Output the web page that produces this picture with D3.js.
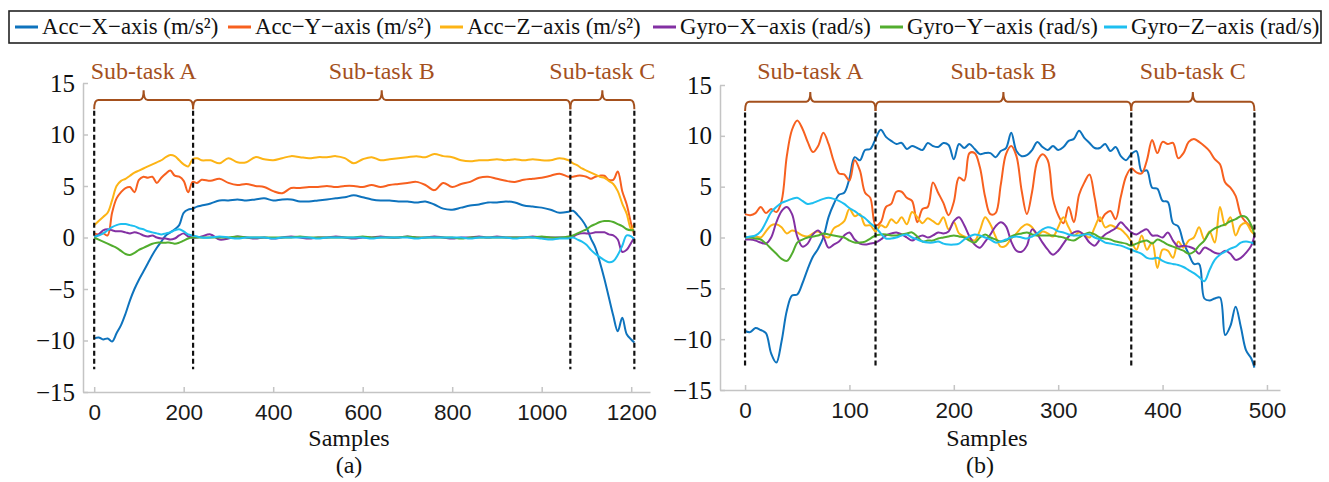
<!DOCTYPE html>
<html>
<head>
<meta charset="utf-8">
<script src="https://cdn.jsdelivr.net/npm/d3@7"></script>
<style>
  body { margin: 0; background: #fff; }
  svg { display: block; }
</style>
</head>
<body>
<svg id="chart" width="1329" height="482"></svg>
<script>
// series names + colours (legend order = draw order)
var seriesNames = ["Acc\u2212X\u2212axis (m/s\u00b2)", "Acc\u2212Y\u2212axis (m/s\u00b2)", "Acc\u2212Z\u2212axis (m/s\u00b2)",
                   "Gyro\u2212X\u2212axis (rad/s)", "Gyro\u2212Y\u2212axis (rad/s)", "Gyro\u2212Z\u2212axis (rad/s)"];
var seriesColors = ["#0e73bd", "#f7601f", "#fdb415", "#8330a3", "#52ad2e", "#1ebff0"];

var yTicks = [-15, -10, -5, 0, 5, 10, 15];
var xTicksA = [0, 200, 400, 600, 800, 1000, 1200];
var xTicksB = [0, 100, 200, 300, 400, 500];
var phaseLabels = ["Sub-task A", "Sub-task B", "Sub-task C"];
var boundsA = [0, 221, 1064, 1207];
var boundsB = [0, 125, 370, 488];

// panel (a): sample index of each reading
var samplesA = [0,10,20,30,40,50,60,70,80,90,100,110,120,130,140,150,160,170,180,190,200,210,220,230,240,
  260,280,300,320,340,360,380,400,420,440,460,480,500,520,540,560,580,600,620,640,660,680,700,720,740,
  760,780,800,820,840,860,880,900,920,940,960,980,1000,1020,1040,1060,
  1070,1080,1090,1100,1110,1120,1130,1140,1150,1160,1170,1180,1190,1200,1207];

var accXA = [-9.8,-9.7,-9.9,-9.8,-10.1,-9.3,-8.5,-7.4,-6.1,-5.0,-4.1,-3.3,-2.5,-1.7,-1.0,-0.4,0.2,0.5,0.8,1.2,2.4,2.7,2.8,3.0,3.1,
  3.3,3.6,3.6,3.7,3.6,3.7,3.8,3.6,3.7,3.7,3.5,3.5,3.6,3.7,3.8,3.9,4.1,3.9,3.7,3.6,3.6,3.5,3.5,3.4,3.5,
  3.2,2.8,2.7,2.9,3.1,3.2,3.4,3.4,3.5,3.4,3.1,3.0,2.9,2.7,2.4,2.5,
  2.6,2.2,1.7,1.0,-0.1,-1.0,-2.4,-4.0,-5.8,-7.6,-9.1,-7.8,-9.4,-9.9,-10.2];
var accYA = [0.4,0.3,0.4,0.2,2.4,3.8,4.4,4.8,4.9,4.4,5.6,5.9,5.8,5.9,5.3,5.8,6.2,6.5,6.0,5.9,5.5,4.4,5.4,5.3,5.6,
  5.5,5.7,5.3,5.1,5.2,5.0,4.9,4.5,4.3,4.8,4.8,4.9,4.9,5.0,4.9,5.0,5.0,4.9,5.1,4.9,5.1,5.2,5.3,5.4,5.1,
  4.6,5.3,4.9,5.2,5.4,5.8,5.9,5.7,5.5,5.4,5.6,5.7,5.8,6.0,6.2,5.9,
  5.9,6.0,6.0,5.9,5.7,5.9,6.0,6.0,5.6,5.6,6.4,4.5,3.2,1.3,0.2];
var accZA = [1.2,1.6,2.0,2.4,3.6,5.0,5.5,5.7,6.0,6.3,6.5,6.7,6.9,7.1,7.3,7.5,7.8,8.0,7.9,7.5,7.1,6.9,7.6,7.7,7.5,
  7.5,7.2,7.7,7.3,7.3,7.8,7.6,7.5,7.7,7.9,7.8,7.7,7.8,7.8,7.9,7.7,7.2,7.6,7.8,7.5,7.6,7.7,7.8,7.9,7.8,
  8.1,7.9,7.8,7.5,7.4,7.5,7.5,7.6,7.5,7.6,7.5,7.6,7.5,7.5,7.7,7.5,
  7.2,7.0,6.7,6.5,6.3,6.1,5.9,5.8,5.5,5.2,4.5,3.3,2.3,0.8,1.3];
var gyroXA = [0,0.3,0.7,0.8,0.7,0.6,0.6,0.5,0.4,0.5,0.4,0.2,0.1,0.2,0.0,-0.1,-0.1,-0.2,-0.1,0.2,0.4,0.1,0.0,0.0,0.1,
  0.3,-0.2,-0.1,0.1,0.0,-0.1,0.0,-0.1,0.0,0.1,0.0,-0.1,0.0,0.0,0.1,0.0,-0.1,0.0,0.0,0.1,0.0,0.0,0.1,0.0,0.0,
  0.1,0.0,-0.1,0.0,0.0,0.1,0.0,0.1,0.0,0.0,0.0,0.1,0.0,0.0,0.0,0.0,
  0.1,0.3,0.4,0.4,0.4,0.5,0.5,0.5,0.3,0.2,-0.2,-1.4,-1.2,-0.5,0.0];
var gyroYA = [0,-0.2,-0.4,-0.6,-0.8,-1.0,-1.3,-1.6,-1.7,-1.5,-1.2,-1.0,-0.8,-0.6,-0.5,-0.5,-0.5,-0.5,-0.6,-0.5,-0.3,-0.1,0.0,0.0,0.0,
  0.0,0.0,0.0,0.1,0.0,0.0,0.0,0.0,0.0,0.0,0.1,0.0,0.0,0.0,0.0,0.0,0.0,0.1,0.0,0.0,0.0,0.0,0.1,0.0,0.0,
  0.0,0.0,0.0,-0.1,0.0,0.0,0.0,0.0,0.0,0.0,0.0,0.0,0.1,0.0,0.0,0.1,
  0.2,0.4,0.6,0.8,1.1,1.3,1.5,1.6,1.6,1.5,1.3,1.1,0.8,0.7,0.7];
var gyroZA = [0.1,0.2,0.4,0.7,1.0,1.2,1.3,1.3,1.2,1.1,0.9,0.8,0.6,0.5,0.4,0.3,0.4,0.5,0.7,0.8,0.6,0.3,0.2,0.1,0.0,
  0.0,0.1,0.0,-0.1,0.0,0.0,0.0,-0.1,0.0,0.0,0.0,0.0,-0.1,0.0,0.0,0.0,0.0,0.0,-0.1,0.0,0.0,0.0,0.0,-0.1,0.0,
  0.0,0.0,0.0,0.0,-0.1,0.0,0.0,0.0,0.0,-0.1,0.0,0.0,-0.1,-0.2,-0.1,-0.1,
  0.0,-0.2,-0.4,-0.7,-1.2,-1.6,-1.9,-2.2,-2.4,-2.3,-1.7,-0.8,0.2,0.1,-0.2];

// panel (b): one reading every 5 samples
var samplesB = [0,5,10,15,20,25,30,35,40,45,50,55,60,65,70,75,80,85,90,95,
  100,105,110,115,120,125,130,135,140,145,150,155,160,165,170,175,180,185,190,195,
  200,205,210,215,220,225,230,235,240,245,250,255,260,265,270,275,280,285,290,295,
  300,305,310,315,320,325,330,335,340,345,350,355,360,365,370,375,380,385,390,395,
  400,405,410,415,420,425,430,435,440,445,450,455,460,465,470,475,480,485,488];

var accXB = [-9.2,-9.3,-8.9,-9.1,-9.4,-11.4,-12.3,-10.2,-7.2,-5.7,
  -5.6,-4.5,-3.1,-1.9,-1.1,0.0,2.0,3.3,4.2,4.4,
  5.8,7.9,7.6,8.6,8.7,9.7,10.6,9.9,9.5,9.2,
  9.3,8.7,9.0,8.8,8.6,9.3,9.0,8.9,9.3,9.1,
  7.7,9.2,8.8,9.2,8.7,8.2,8.3,8.3,7.9,8.5,
  8.8,10.3,8.5,8.0,8.1,8.6,9.4,8.9,8.6,9.0,
  8.6,8.9,9.5,9.7,10.5,9.8,9.3,8.8,8.8,9.2,
  8.5,8.9,8.0,7.6,8.2,8.5,6.5,6.6,4.9,4.8,
  3.6,3.5,1.4,1.1,-0.5,-1.6,-2.6,-2.6,-6.0,-6.2,
  -6.0,-5.9,-9.6,-8.7,-6.8,-8.8,-11.1,-11.9,-12.8];
var accYB = [2.3,2.2,2.4,3.0,2.4,2.8,2.5,3.6,8.0,10.6,
  11.5,10.7,9.4,8.4,9.0,10.3,9.2,7.5,6.3,6.2,
  5.6,7.6,6.6,4.4,3.9,1.2,1.5,3.0,3.3,4.5,
  4.5,3.9,3.6,1.5,2.8,3.0,5.4,4.4,3.4,2.2,
  3.5,5.9,5.6,8.3,8.3,6.9,4.0,2.3,2.4,5.2,
  8.2,9.0,8.0,4.6,2.3,4.5,7.5,8.2,7.6,3.8,
  2.2,1.4,3.0,1.5,4.2,5.4,6.2,3.9,1.6,2.3,
  2.6,1.8,4.0,6.0,6.8,6.4,6.3,7.6,9.6,8.3,
  9.4,9.2,9.3,7.8,8.3,9.4,9.7,9.4,9.0,8.5,
  7.7,7.2,5.4,4.9,4.1,2.2,1.5,1.0,0.7];
var accZB = [0.0,0.0,0.1,0.0,0.6,1.2,1.3,1.0,0.4,0.7,
  0.5,0.2,0.1,0.4,0.6,0.2,0.0,0.9,1.2,1.6,
  2.8,2.1,2.3,1.2,1.2,0.6,1.2,1.0,1.8,1.4,
  2.0,1.3,2.5,2.0,1.4,1.9,1.6,1.3,2.0,0.8,
  1.5,0.4,0.1,-0.1,-0.3,0.7,2.0,1.3,0.1,-0.9,
  -0.8,-0.1,0.4,1.0,1.3,1.0,0.2,0.6,0.4,0.1,
  1.0,2.0,1.0,0.2,0.5,0.3,0.0,1.0,2.0,1.0,
  1.2,1.0,0.8,0.3,-0.4,-1.2,0.2,-1.2,-0.5,-3.0,
  -1.2,-1.3,-2.0,-0.4,-1.0,-0.3,0.0,1.0,-0.2,0.6,
  -0.5,3.0,1.2,2.0,0.2,1.2,1.4,0.6,0.3];
var gyroXB = [-0.2,-0.2,-0.3,-0.5,-0.6,0.0,1.5,2.6,3.0,2.3,
  0.1,-0.9,-0.6,0.3,0.7,0.1,-1.0,-0.7,-0.4,0.2,
  0.5,-0.2,-0.6,-0.7,-0.6,-0.5,-0.2,0.2,0.4,0.5,
  0.3,0.0,-0.3,0.0,0.2,0.0,0.2,0.5,0.4,0.6,
  1.6,2.0,1.2,0.1,-0.7,-1.0,-0.4,0.3,1.1,1.5,
  1.1,-0.4,-1.3,-1.4,-0.8,0.8,0.3,-0.5,-1.2,-1.7,
  -1.3,-0.6,0.1,0.5,0.6,0.2,-0.5,-0.8,-0.2,0.3,
  0.6,0.9,1.5,1.0,0.5,0.3,0.6,0.8,0.2,0.2,
  0.0,0.5,-0.3,-0.9,-0.8,-0.9,-1.1,-1.6,-1.0,-1.2,
  -1.5,-1.6,-1.3,-1.6,-2.2,-2.0,-1.5,-0.8,0.2];
var gyroYB = [0.0,0.0,-0.1,-0.2,-0.6,-1.1,-1.6,-2.1,-2.3,-1.6,
  -0.5,-0.2,0.0,0.1,0.2,0.4,0.3,0.2,0.1,0.0,
  -0.3,-0.5,-0.5,-0.4,-0.1,0.2,0.3,0.3,0.2,0.2,
  0.3,0.4,0.5,0.1,-0.4,-0.3,-0.3,-0.1,0.0,0.1,
  0.2,0.1,0.0,-0.3,-0.5,0.0,0.3,0.0,-0.2,-0.4,
  -0.3,0.1,0.3,0.4,0.5,0.3,0.2,0.2,0.2,0.2,
  0.1,0.0,-0.2,-0.3,0.0,0.3,0.5,0.3,0.0,-0.1,
  -0.2,-0.4,-0.5,-0.6,-0.8,-0.6,-0.4,-0.3,-0.6,-0.2,
  -0.4,-0.7,-0.9,-1.1,-1.3,-1.6,-1.4,-0.8,-0.3,0.5,
  0.9,1.1,1.3,1.6,1.8,2.1,2.0,1.2,0.3];
var gyroZB = [0.0,0.1,0.2,0.6,1.5,2.5,3.0,3.4,3.6,3.8,
  3.9,3.6,3.3,3.4,3.6,3.8,3.9,3.8,3.6,3.3,
  2.9,2.6,2.2,1.9,1.4,1.0,0.4,-0.1,-0.1,0.0,
  0.2,0.3,0.0,-0.2,-0.4,-0.5,-0.5,-0.4,-0.6,-0.7,
  -0.7,-0.6,-0.2,0.1,0.3,0.2,0.0,-0.2,-0.5,-0.4,
  -0.2,0.0,0.1,0.0,-0.1,0.1,0.4,0.8,1.0,0.9,
  0.6,0.5,0.3,0.2,0.2,0.3,0.3,0.0,-0.2,-0.5,
  -0.6,-0.7,-0.8,-1.0,-1.2,-1.4,-1.6,-2.0,-2.1,-2.0,
  -2.3,-2.5,-2.6,-2.7,-2.9,-3.2,-3.5,-3.9,-4.3,-3.2,
  -2.2,-1.7,-1.4,-1.1,-0.9,-0.5,-0.4,-0.5,-0.6];

// single family names only - lists fall back to a sans face here
var SERIF = "Liberation Serif";
var SANS = "Liberation Sans";
var BROWN = "#a4501d";
var AXIS = "#c4c4c4";

var svg = d3.select("#chart");

var panels = [
  { samples: samplesA, series: [accXA, accYA, accZA, gyroXA, gyroYA, gyroZA],
    xDomain: [-25, 1242], xRange: [83, 650], yRange: [392, 83],
    xTicks: xTicksA, bounds: boundsA, caption: "(a)", labelX: 349, captionX: 349 },
  { samples: samplesB, series: [accXB, accYB, accZB, gyroXB, gyroYB, gyroZB],
    xDomain: [-24, 512.5], xRange: [720, 1280], yRange: [390, 85],
    xTicks: xTicksB, bounds: boundsB, caption: "(b)", labelX: 987, captionX: 980 }
];

function drawPanel(p) {
  var x = d3.scaleLinear().domain(p.xDomain).range(p.xRange);
  var y = d3.scaleLinear().domain([-15, 15]).range(p.yRange);
  var g = svg.append("g");

  // axes, ticks pointing inwards
  var ya = g.append("g")
    .attr("transform", "translate(" + p.xRange[0] + ",0)")
    .call(d3.axisLeft(y).tickValues(yTicks).tickSizeInner(-5).tickSizeOuter(0).tickPadding(8));
  ya.attr("font-family", SERIF).attr("font-size", 25);
  ya.selectAll("text").attr("fill", "#111");

  var xa = g.append("g")
    .attr("transform", "translate(0," + p.yRange[0] + ")")
    .call(d3.axisBottom(x).tickValues(p.xTicks).tickFormat(d3.format("d"))
      .tickSizeInner(-5).tickSizeOuter(0).tickPadding(12));
  xa.attr("font-family", SANS).attr("font-size", 22.5);
  xa.selectAll("text").attr("fill", "#1a1a1a");

  g.selectAll(".domain, .tick line").attr("stroke", AXIS).attr("stroke-width", 1.5);

  // data lines
  var line = d3.line()
    .x(function(d) { return x(d[0]); })
    .y(function(d) { return y(d[1]); })
    .curve(d3.curveCatmullRom.alpha(0.5));

  p.series.forEach(function(vals, i) {
    var pts = p.samples.map(function(s, k) { return [s, vals[k]]; });
    g.append("path")
      .attr("d", line(pts))
      .attr("fill", "none")
      .attr("stroke", seriesColors[i])
      .attr("stroke-width", 2)
      .attr("stroke-linejoin", "round");
  });

  // sub-task boundaries
  g.selectAll(".bound")
    .data(p.bounds)
    .enter()
    .append("line")
    .attr("x1", function(d) { return x(d); })
    .attr("x2", function(d) { return x(d); })
    .attr("y1", y(12.3))
    .attr("y2", y(-12.8))
    .attr("stroke", "#111")
    .attr("stroke-width", 2.2)
    .attr("stroke-dasharray", "5,3");

  // brackets with a small peak in the middle
  var by = y(13.35), bEnd = y(12.45), bTop = y(14.3), r = 4;
  for (var k = 0; k < 3; k++) {
    var x0 = x(p.bounds[k]), x1 = x(p.bounds[k + 1]), xm = (x0 + x1) / 2;
    var d = "M" + x0 + "," + bEnd +
            " Q" + x0 + "," + by + " " + (x0 + r) + "," + by +
            " L" + (xm - r) + "," + by +
            " Q" + xm + "," + by + " " + xm + "," + bTop +
            " Q" + xm + "," + by + " " + (xm + r) + "," + by +
            " L" + (x1 - r) + "," + by +
            " Q" + x1 + "," + by + " " + x1 + "," + bEnd;
    g.append("path").attr("d", d).attr("fill", "none")
      .attr("stroke", BROWN).attr("stroke-width", 2);
    g.append("text")
      .attr("x", xm)
      .attr("y", 79)
      .attr("text-anchor", "middle")
      .attr("font-family", SERIF)
      .attr("font-size", 24)
      .attr("fill", BROWN)
      .text(phaseLabels[k]);
  }

  g.append("text").attr("x", p.labelX).attr("y", 446).attr("text-anchor", "middle")
    .attr("font-family", SERIF).attr("font-size", 24).attr("fill", "#111").text("Samples");
  g.append("text").attr("x", p.captionX).attr("y", 473).attr("text-anchor", "middle")
    .attr("font-family", SERIF).attr("font-size", 24).attr("fill", "#111").text(p.caption);
}

panels.forEach(drawPanel);

// legend across the top
var legendX = [15, 228, 440, 653, 880, 1104];
var lg = svg.append("g");
lg.append("rect").attr("x", 9).attr("y", 11).attr("width", 1312).attr("height", 32)
  .attr("fill", "#fff").attr("stroke", "#222").attr("stroke-width", 1.6);
seriesNames.forEach(function(name, i) {
  lg.append("line").attr("x1", legendX[i]).attr("x2", legendX[i] + 23)
    .attr("y1", 27).attr("y2", 27)
    .attr("stroke", seriesColors[i]).attr("stroke-width", 3);
  lg.append("text").attr("x", legendX[i] + 27).attr("y", 33.5)
    .attr("font-family", SERIF).attr("font-size", 22.8).attr("fill", "#111")
    .text(name);
});
</script>
</body>
</html>
